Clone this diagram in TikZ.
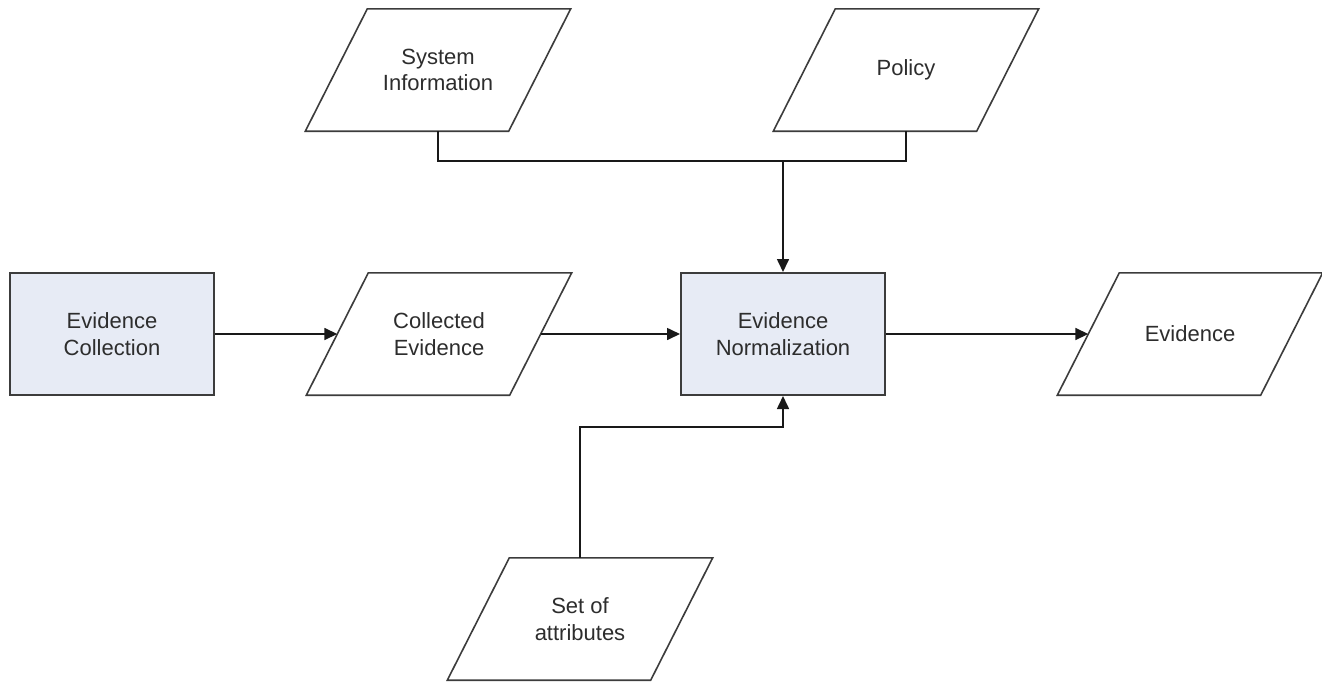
\documentclass[tikz,border=0pt]{standalone}
\usepackage{fontspec}
\setmainfont{Liberation Sans}
\usetikzlibrary{arrows.meta,calc}
\definecolor{procfill}{RGB}{231,235,245}
\definecolor{edgegray}{RGB}{60,60,60}
\definecolor{txtgray}{RGB}{45,45,45}
\definecolor{wiregray}{RGB}{25,25,25}
\tikzset{
  labelfont/.style={font=\fontsize{22}{26.7}\selectfont, text=txtgray, align=center},
  proc/.style={labelfont, draw=edgegray, line width=2pt, fill=procfill,
    minimum width=204pt, minimum height=122pt, inner sep=0pt},
  iodata/.style={labelfont, minimum width=203pt, minimum height=122pt, inner sep=0pt},
  ioline/.style={draw=edgegray, line width=1.6pt, line join=miter},
  wire/.style={draw=wiregray, line width=1.6pt},
  arr/.style={wire, -{Triangle[length=13pt,width=12pt]}}
}
\begin{document}
\begin{tikzpicture}[x=1pt,y=-1pt]
  \fill[white] (0,0) rectangle (1322,681);
  \useasboundingbox (0,0) rectangle (1322,681);

  % process boxes
  \node[proc] (ec)   at (112,334) {Evidence\\Collection};
  \node[proc] (norm) at (783,334) {Evidence\\Normalization};

  % data (parallelogram) nodes
  \node[iodata] (sys) at (438,70)  {System\\Information};
  \node[iodata] (pol) at (906,70)  {Policy};
  \node[iodata] (col) at (439,334) {Collected\\Evidence};
  \node[iodata] (evi) at (1190,334) {Evidence};
  \node[iodata] (att) at (580,619) {Set of\\attributes};

  \foreach \n in {sys,pol,col,evi,att}
    \draw[ioline] ($(\n.north west)+(31,0)$) -- ($(\n.north east)+(31,0)$)
      -- ($(\n.south east)+(-31,0)$) -- ($(\n.south west)+(-31,0)$) -- cycle;

  % main flow
  \draw[arr] (ec.east) -- (col.west);
  \draw[arr] (col.east) -- (norm.west);
  \draw[arr] (norm.east) -- (evi.west);

  % inputs from above
  \coordinate (merge) at ($(norm.north)+(0,-111)$);
  \draw[wire] (sys.south) |- (merge) -| (pol.south);
  \draw[arr] (merge) -- (norm.north);

  % input from below
  \draw[arr] (att.north) |- ($(norm.south)+(0,31)$) -- (norm.south);
\end{tikzpicture}
\end{document}
